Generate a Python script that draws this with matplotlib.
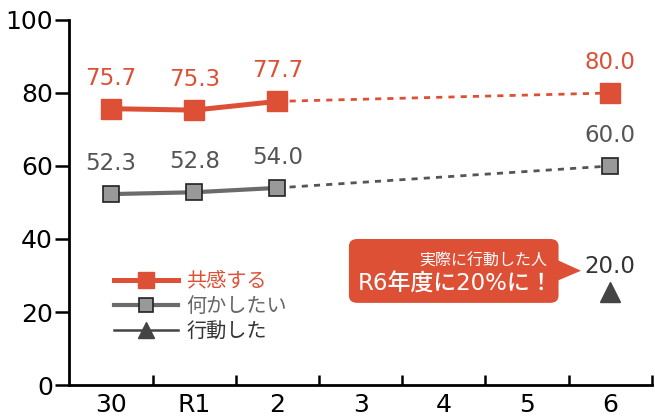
import matplotlib
matplotlib.use("Agg")
import matplotlib.pyplot as plt
from matplotlib.patches import FancyBboxPatch, Polygon

plt.rcParams['font.family'] = ['DejaVu Sans', 'Noto Sans CJK JP']

# ── Données ──────────────────────────────────────────────────────────────
years = ["30", "R1", "2", "3", "4", "5", "6"]
kyokan_x = [0, 1, 2]
kyokan = [75.7, 75.3, 77.7]
kyokan_goal = 80.0
nanika_x = [0, 1, 2]
nanika = [52.3, 52.8, 54.0]
nanika_goal = 60.0
kodo_goal_pos = 25.5      # position of the triangle as drawn
kodo_goal_label = 20.0
goal_x = 6

RED = "#dd5036"
GRAY_LINE = "#6b6b6b"
GRAY_FILL = "#999999"
DARK = "#444444"

fig = plt.figure(figsize=(6.55, 4.16), dpi=100)
ax = fig.add_axes([0.106, 0.0745, 0.889, 0.8775])

# lignes pleines
ax.plot(kyokan_x, kyokan, color=RED, lw=3.6, marker="s", ms=14,
        mfc=RED, mec=RED, zorder=3, label="共感する")
ax.plot(nanika_x, nanika, color=GRAY_LINE, lw=3, marker="s", ms=12,
        mfc=GRAY_FILL, mec="#222222", mew=1.2, zorder=3, label="何かしたい")
ax.plot([], [], color=DARK, lw=1.8, marker="^", ms=13, mfc=DARK, mec=DARK,
        label="行動した")

# pointillés vers l'objectif
ax.plot([kyokan_x[-1], goal_x], [kyokan[-1], kyokan_goal], color=RED, lw=2,
        ls=(0, (2.2, 2.2)), zorder=2)
ax.plot([nanika_x[-1], goal_x], [nanika[-1], nanika_goal], color="#555555", lw=2,
        ls=(0, (2.2, 2.2)), zorder=2)
ax.plot([goal_x], [kyokan_goal], marker="s", ms=14, color=RED, zorder=3)
ax.plot([goal_x], [nanika_goal], marker="s", ms=12, mfc=GRAY_FILL, mec="#222222",
        mew=1.2, zorder=3)
ax.plot([goal_x], [kodo_goal_pos], marker="^", ms=15, color=DARK, zorder=3)

# étiquettes
for x, v in zip(kyokan_x + [goal_x], kyokan + [kyokan_goal]):
    ax.annotate(f"{v:.1f}", (x, v), xytext=(0, 22), textcoords="offset points",
                ha="center", va="center", fontsize=16.5, color=RED)
for x, v in zip(nanika_x + [goal_x], nanika + [nanika_goal]):
    ax.annotate(f"{v:.1f}", (x, v), xytext=(0, 22), textcoords="offset points",
                ha="center", va="center", fontsize=16.5, color="#555555")
ax.annotate(f"{kodo_goal_label:.1f}", (goal_x, kodo_goal_pos), xytext=(0, 18),
            textcoords="offset points", ha="center", va="center",
            fontsize=16.5, color="#333333")

# bulle
box = FancyBboxPatch((2.86, 22.5), 2.52, 17.5, boxstyle="round,pad=0,rounding_size=0.1",
                     fc=RED, ec="none", zorder=4, mutation_aspect=20)
ax.add_patch(box)
ax.add_patch(Polygon([[5.37, 34.2], [5.65, 31.3], [5.37, 28.6]], closed=True,
                     fc=RED, ec="none", zorder=4))
ax.text(5.24, 34.0, "実際に行動した人", ha="right", va="center", fontsize=11.5,
        color="white", zorder=5)
ax.text(5.32, 27.7, "R6年度に20%に！", ha="right", va="center", fontsize=16.5,
        color="white", zorder=5, fontweight="medium")

# axes
ax.set_xlim(-0.5, 6.5)
ax.set_ylim(0, 100)
ax.set_yticks([0, 20, 40, 60, 80, 100])
ax.set_xticks(range(len(years)))
ax.set_xticklabels(years)
ax.set_xticks([i + 0.5 for i in range(len(years))], minor=True)
ax.tick_params(axis="x", which="major", length=0, pad=6, labelsize=18)
ax.tick_params(axis="x", which="minor", direction="in", length=7, width=1.8)
ax.tick_params(axis="y", direction="out", length=10, width=1.8, labelsize=18, pad=2)
for s in ["top", "right"]:
    ax.spines[s].set_visible(False)
for s in ["left", "bottom"]:
    ax.spines[s].set_linewidth(2)

leg = ax.legend(loc="upper left", bbox_to_anchor=(0.045, 0.36), frameon=False,
                fontsize=14.5, handlelength=3.2, labelspacing=0.3, handletextpad=0.4,
                markerscale=0.85,
                labelcolor=[RED, "#666666", "#333333"])

fig.savefig("out.png", dpi=100)
